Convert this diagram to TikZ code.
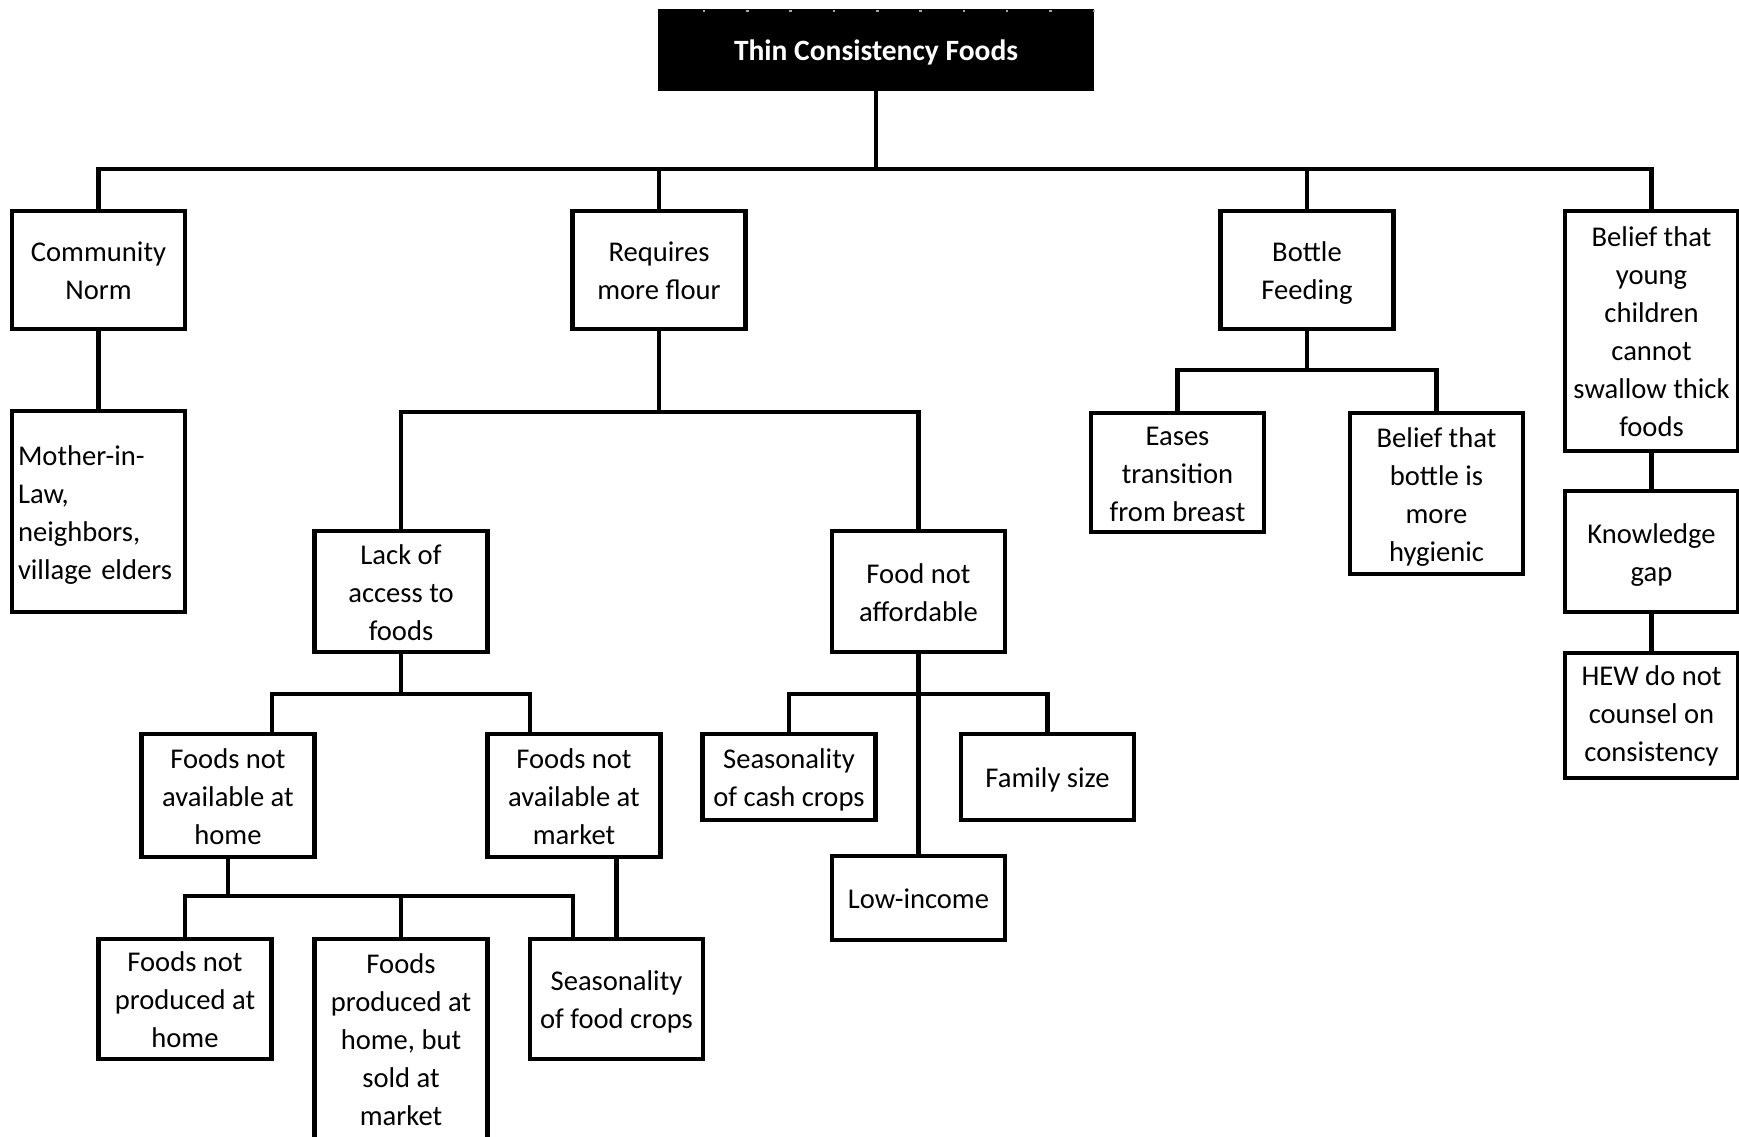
\documentclass[tikz,border=0pt]{standalone}
\usepackage{fontspec}
\usetikzlibrary{calc}
\setmainfont{Carlito}
% line struts: tall first line, shallow last line
\newcommand{\topstrut}{\rule{0pt}{28pt}}
\newcommand{\botstrut}{\rule[-7pt]{0pt}{7pt}}
\begin{document}
\begin{tikzpicture}[x=1pt,y=-1pt,
  every node/.style={font=\fontsize{28.6}{38}\selectfont},
  box/.style={draw, line width=4.5pt, align=center, inner sep=4pt,
              minimum width=173pt, execute at end node=\botstrut},
  link/.style={line width=4.5pt}]
\useasboundingbox (0,0) rectangle (1739,1136);
\clip (0,0) rectangle (1739,1136);
\fill[white] (0,0) rectangle (1739,1136);

% root
\node[fill=black, text=white, minimum width=436pt, minimum height=82pt,
      inner sep=0pt, font=\fontsize{29.5}{38}\selectfont\bfseries] (title) at (876,50)
  {\topstrut Thin Consistency Foods\botstrut};
% light specks along the top edge of the root box
\foreach \k in {0,...,9}
  \fill[gray!70] ($(title.north west)+(45+43.3*\k,1)$) rectangle ++(2.5,2);

% first level
\node[box, minimum height=118pt] (comm)   at (98.5,270)  {\topstrut Community\\Norm};
\node[box, minimum height=118pt] (flour)  at (659,270)   {\topstrut Requires\\more flour};
\node[box, minimum height=118pt] (bottle) at (1307,270)  {\topstrut Bottle\\Feeding};
\node[box, minimum height=240pt] (belief) at (1651.5,331)
  {\topstrut Belief that\\young\\children\\cannot\\swallow thick\\foods};

% community norm branch
\node[box, minimum height=201pt, text width=161pt, align=left, inner sep=6pt]
  (mother) at (98.5,511.5) {\topstrut Mother-in-\\Law,\\neighbors,\\village elders};

% flour branch
\node[box, minimum height=121pt] (lack)   at (401,591.5)  {\topstrut Lack of\\access to\\foods};
\node[box, minimum height=121pt] (afford) at (918.5,591.5) {\topstrut Food not\\affordable};
\node[box, minimum height=123pt] (home)   at (228,795.5)  {\topstrut Foods not\\available at\\home};
\node[box, minimum height=123pt] (market) at (574,795.5)  {\topstrut Foods not\\available at\\market};
\node[box, minimum height=120pt] (notprod) at (185,999)   {\topstrut Foods not\\produced at\\home};
\node[box, minimum height=200pt] (sold)   at (401,1039)   {\topstrut Foods\\produced at\\home, but\\sold at\\market};
\node[box, minimum height=120pt] (seasfood) at (616.5,999) {\topstrut Seasonality\\of food crops};
\node[box, minimum height=86pt]  (seascash) at (789,777)  {\topstrut Seasonality\\of cash crops};
\node[box, minimum height=86pt]  (family) at (1047.5,777) {\topstrut Family size};
\node[box, minimum height=84pt]  (lowinc) at (918.5,898)  {\topstrut Low-income};

% bottle feeding branch
\node[box, minimum height=119pt] (eases)    at (1177.5,472.5) {\topstrut Eases\\transition\\from breast};
\node[box, minimum height=161pt] (hygienic) at (1436.5,493.5) {\topstrut Belief that\\bottle is\\more\\hygienic};

% belief branch
\node[box, minimum height=121pt] (know) at (1651.5,551.5) {\topstrut Knowledge\\gap};
\node[box, minimum height=123pt, execute at end node={\rule[-13pt]{0pt}{13pt}}]
  (hew)  at (1651.5,715.5) {\topstrut HEW do not\\counsel on\\consistency};

% junction levels
\coordinate (bus)  at (0,169);
\coordinate (jfl)  at (0,412);
\coordinate (jlk)  at (0,694);
\coordinate (jhm)  at (0,896);
\coordinate (jaf)  at (0,694);
\coordinate (jbt)  at (0,370);

% connectors
\draw[link] (title.south) -- (title.south |- bus);
\draw[link] (comm.north) -- (comm.north |- bus) -- (belief.north |- bus) -- (belief.north);
\draw[link] (flour.north) -- (flour.north |- bus);
\draw[link] (bottle.north) -- (bottle.north |- bus);

\draw[link] (comm.south) -- (mother.north);

\draw[link] (flour.south) -- (flour.south |- jfl);
\draw[link] (lack.north) -- (lack.north |- jfl) -- (afford.north |- jfl) -- (afford.north);

\draw[link] (lack.south) -- (lack.south |- jlk);
\draw[link] ([xshift=44pt]home.north) -- ([xshift=44pt]home.north |- jlk)
  -- ([xshift=-44pt]market.north |- jlk) -- ([xshift=-44pt]market.north);

\draw[link] (home.south) -- (home.south |- jhm);
\draw[link] (notprod.north) -- (notprod.north |- jhm)
  -- ([xshift=-43.5pt]seasfood.north |- jhm) -- ([xshift=-43.5pt]seasfood.north);
\draw[link] (sold.north) -- (sold.north |- jhm);
\draw[link] (market.south -| seasfood.north) -- (seasfood.north);

\draw[link] (afford.south) -- (lowinc.north);
\draw[link] (seascash.north) -- (seascash.north |- jaf) -- (family.north |- jaf) -- (family.north);

\draw[link] (bottle.south) -- (bottle.south |- jbt);
\draw[link] (eases.north) -- (eases.north |- jbt) -- (hygienic.north |- jbt) -- (hygienic.north);

\draw[link] (belief.south) -- (know.north);
\draw[link] (know.south) -- (hew.north);
\end{tikzpicture}
\end{document}
